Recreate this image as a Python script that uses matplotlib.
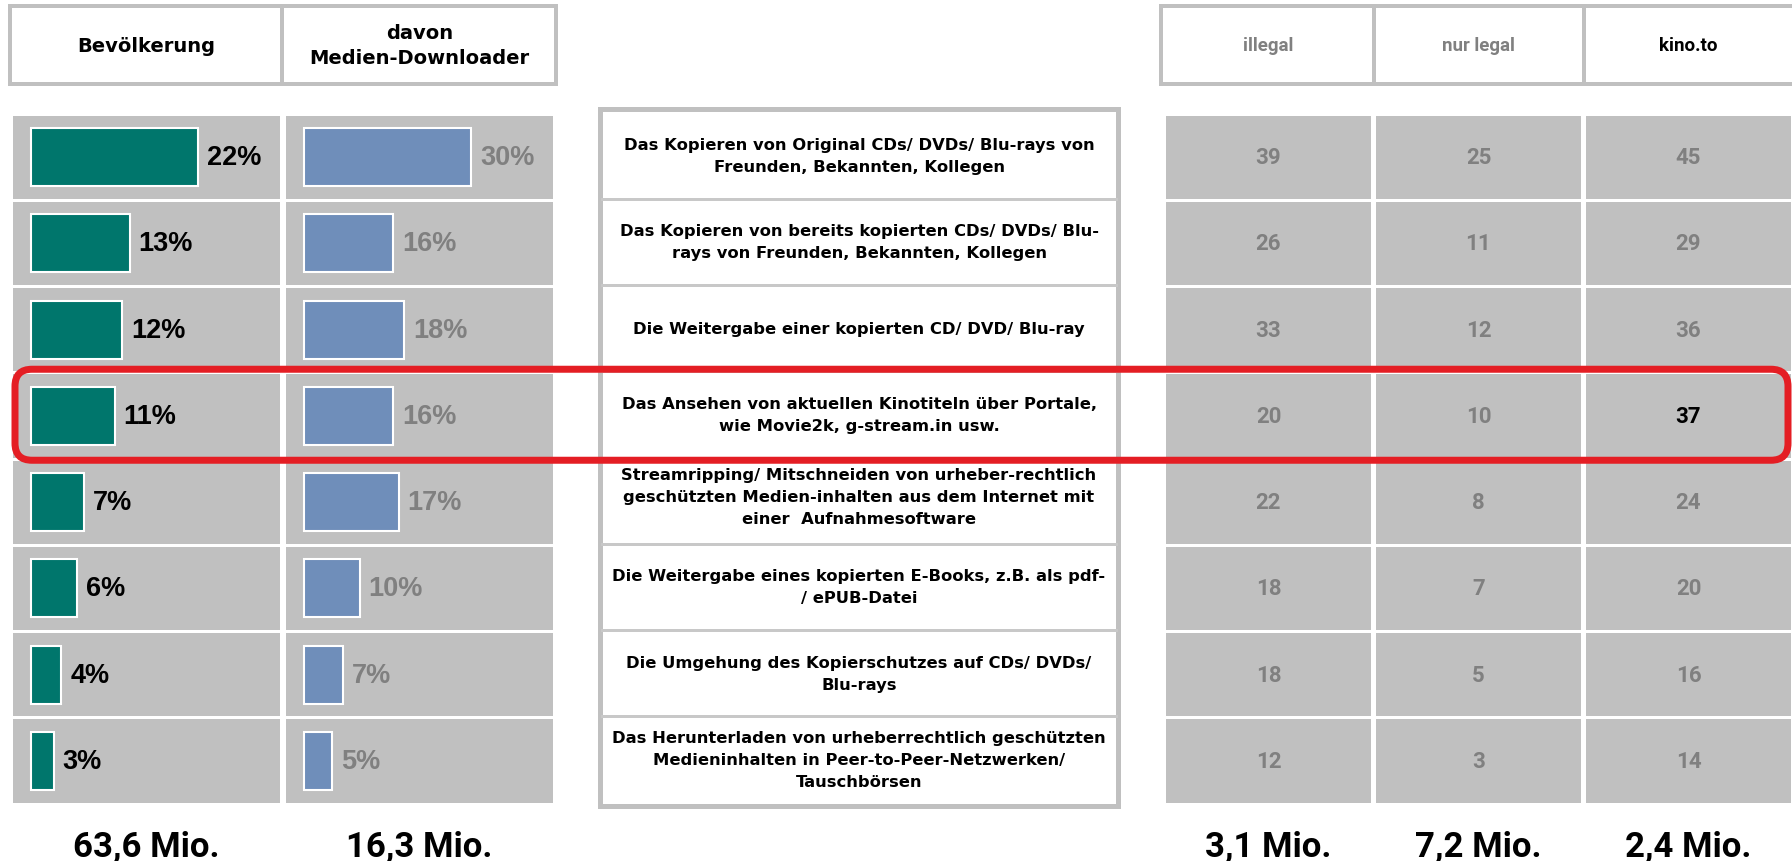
import matplotlib
matplotlib.use("Agg")
import matplotlib.pyplot as plt
from matplotlib.patches import Rectangle, FancyBboxPatch

# Daten
aussagen = [
    "Das Kopieren von Original CDs/ DVDs/ Blu-rays von\nFreunden, Bekannten, Kollegen",
    "Das Kopieren von bereits kopierten CDs/ DVDs/ Blu-\nrays von Freunden, Bekannten, Kollegen",
    "Die Weitergabe einer kopierten CD/ DVD/ Blu-ray",
    "Das Ansehen von aktuellen Kinotiteln über Portale,\nwie Movie2k, g-stream.in usw.",
    "Streamripping/ Mitschneiden von urheber-rechtlich\ngeschützten Medien-inhalten aus dem Internet mit\neiner  Aufnahmesoftware",
    "Die Weitergabe eines kopierten E-Books, z.B. als pdf-\n/ ePUB-Datei",
    "Die Umgehung des Kopierschutzes auf CDs/ DVDs/\nBlu-rays",
    "Das Herunterladen von urheberrechtlich geschützten\nMedieninhalten in Peer-to-Peer-Netzwerken/\nTauschbörsen",
]
bevoelkerung = [22, 13, 12, 11, 7, 6, 4, 3]
downloader = [30, 16, 18, 16, 17, 10, 7, 5]
illegal = [39, 26, 33, 20, 22, 18, 18, 12]
nur_legal = [25, 11, 12, 10, 8, 7, 5, 3]
kino_to = [45, 29, 36, 37, 24, 20, 16, 14]
links_titel = ["Bevölkerung", "davon\nMedien-Downloader"]
rechts_titel = ["illegal", "nur legal", "kino.to"]
links_summen = ["63,6 Mio.", "16,3 Mio."]
rechts_summen = ["3,1 Mio.", "7,2 Mio.", "2,4 Mio."]
markiert = 3

# Farben
GRAU = "#c0c0c0"
TEAL = "#00766c"
BLAU = "#6f8eba"
GRAU_TXT = "#808080"
ROT = "#e41e24"

W, H = 1792, 862
PT = 72 / 100  # Pixel -> Punkt

fig = plt.figure(figsize=(W / 100, H / 100), dpi=100)

def frac(x0, y0, x1, y1):
    return [x0 / W, 1 - y1 / H, (x1 - x0) / W, (y1 - y0) / H]

# Zeilengeometrie (Pixel)
ROW_TOP = 115
PITCH = 86.25
N = len(aussagen)
ROW_BOT = ROW_TOP + N * PITCH
CELL_H = (PITCH - 3) / PITCH

# Overlay-Achse in Pixelkoordinaten
ov = fig.add_axes([0, 0, 1, 1])
ov.set_xlim(0, W)
ov.set_ylim(H, 0)
ov.axis("off")
ov.set_zorder(5)
ov.patch.set_alpha(0)

# Kopfzeilen
def kopf(x0, x1, teiler):
    ov.add_patch(Rectangle((x0, 7), x1 - x0, 78, facecolor="white",
                           edgecolor=GRAU, lw=4 * PT))
    for t in teiler:
        ov.plot([t, t], [7, 85], color=GRAU, lw=4 * PT)

kopf(10, 556, [282])
kopf(1161, 1800, [1373.5, 1583.5])

links_x = [(13, 280), (286, 553)]
for (x0, x1), t in zip(links_x, links_titel):
    ov.text((x0 + x1) / 2, 46, t, ha="center", va="center", fontsize=14,
            fontweight="bold", family="DejaVu Sans", linespacing=1.4)

rechts_x = [(1166, 1371), (1376, 1581), (1586, 1791)]
for i, ((x0, x1), t) in enumerate(zip(rechts_x, rechts_titel)):
    ov.text((x0 + x1) / 2, 46, t, ha="center", va="center", fontsize=13.5,
            fontweight="bold", family="Roboto",
            color="black" if i == 2 else GRAU_TXT)

# Mittlere Textspalte
ov.add_patch(Rectangle((600, 110), 518, ROW_BOT - 110 + 2, facecolor="white",
                       edgecolor=GRAU, lw=5 * PT, zorder=1))
for k in range(1, N):
    y = ROW_TOP + k * PITCH - 1.5
    ov.plot([602, 1116], [y, y], color="#c8c8c8", lw=3 * PT, zorder=2)
for k, t in enumerate(aussagen):
    yc = ROW_TOP + k * PITCH + (PITCH - 3) / 2
    if t.count("\n") == 2 and k < N - 1:
        yc -= 4
    ov.text(859, yc, t, ha="center", va="center", fontsize=11.8,
            fontweight="bold", family="DejaVu Sans", linespacing=1.6, zorder=3)

# Balkenspalten
def balken_spalte(x0, x1, werte, farbe, txtfarbe, px_max):
    ax = fig.add_axes(frac(x0, ROW_TOP, x1, ROW_BOT))
    breite_px = x1 - x0
    skala = px_max / max(werte)  # Pixel pro Prozent
    links = 18 / skala
    ax.set_xlim(-links, breite_px / skala - links)
    ax.set_ylim(N - 0.5, -0.5)
    ax.axis("off")
    y = range(N)
    ax.barh(y, breite_px / skala, left=-links, height=CELL_H, color=GRAU)
    ax.barh(y, werte, height=0.67, color=farbe, edgecolor="white", lw=1.5)
    for i, v in enumerate(werte):
        ax.text(v + 9 / skala, i, f"{v}%", ha="left", va="center",
                fontsize=19.5, fontweight="bold", family="Liberation Sans",
                color=txtfarbe)

balken_spalte(13, 280, bevoelkerung, TEAL, "black", 167)
balken_spalte(286, 553, downloader, BLAU, GRAU_TXT, 167)

# Tabelle rechts
tab = fig.add_axes(frac(1166, ROW_TOP, 1166 + 3 * 210, ROW_BOT))
tab.set_xlim(-0.488, 2.512)
tab.set_ylim(N - 0.5, -0.5)
tab.axis("off")
for j, werte in enumerate([illegal, nur_legal, kino_to]):
    tab.bar([j] * N, CELL_H, bottom=[i - CELL_H / 2 for i in range(N)],
            width=205 / 210, color=GRAU)
    for i, v in enumerate(werte):
        schwarz = (j == 2 and i == markiert)
        tab.text(j, i, str(v), ha="center", va="center", fontsize=16,
                 fontweight="bold", family="Roboto",
                 color="black" if schwarz else GRAU_TXT)

# Summen unten
for (x0, x1), t in list(zip(links_x, links_summen)) + list(zip(rechts_x, rechts_summen)):
    ov.text((x0 + x1) / 2, 847, t, ha="center", va="center", fontsize=25,
            fontweight="bold", family="Roboto")

# Rote Markierung
y0 = ROW_TOP + markiert * PITCH - 3.5
ov.add_patch(FancyBboxPatch((15, y0), 1773, 91,
                            boxstyle="round,pad=0,rounding_size=17",
                            facecolor="none", edgecolor=ROT, lw=7 * PT, zorder=10))

fig.savefig("out.png", dpi=100)
